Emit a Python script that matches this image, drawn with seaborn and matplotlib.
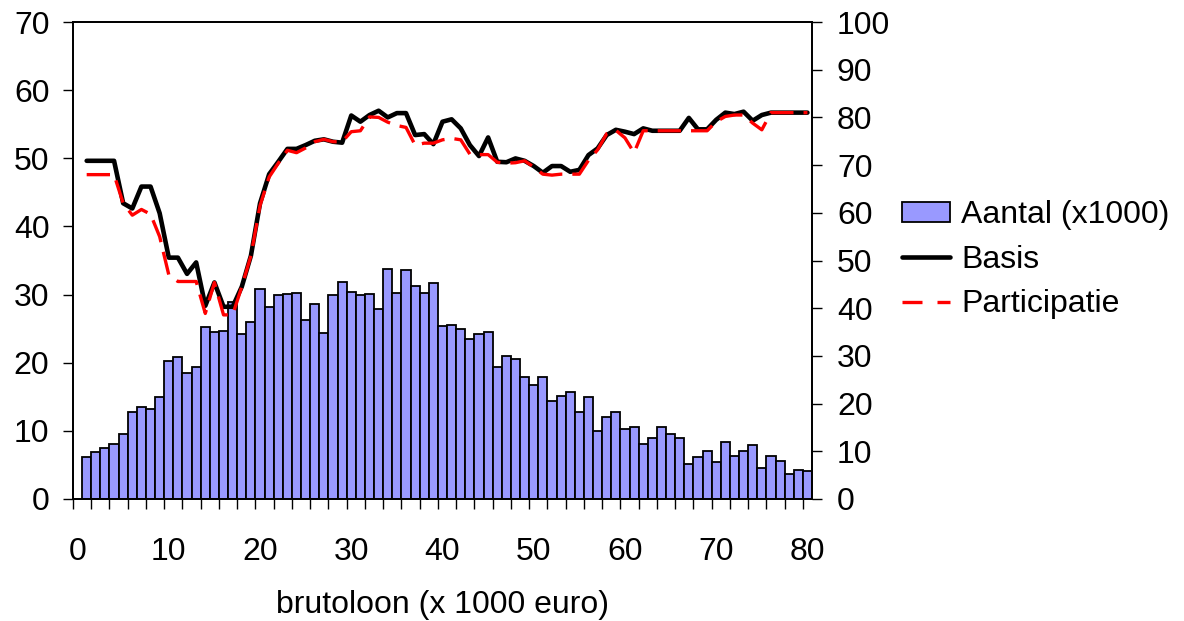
import numpy as np
import pandas as pd
import matplotlib
matplotlib.use("Agg")
import matplotlib.pyplot as plt
import seaborn as sns
from matplotlib.patches import Patch
from matplotlib.lines import Line2D
from matplotlib.ticker import FixedLocator

# ---------------- data ----------------
loon = list(range(1, 81))
aantal = [6.2, 6.9, 7.5, 8.0, 9.6, 12.8, 13.5, 13.2, 15.0, 20.2,
          20.9, 18.5, 19.4, 25.3, 24.5, 24.6, 28.9, 24.2, 26.0, 30.8,
          28.2, 30.0, 30.1, 30.2, 26.3, 28.6, 24.4, 30.0, 31.9, 30.4,
          30.0, 30.1, 27.9, 33.7, 30.3, 33.6, 31.2, 30.3, 31.7, 25.4,
          25.5, 24.9, 23.5, 24.2, 24.5, 19.4, 21.0, 20.5, 17.9, 16.7,
          17.9, 14.4, 15.1, 15.7, 12.8, 14.9, 10.0, 12.0, 12.7, 10.2,
          10.6, 8.0, 9.0, 10.6, 9.6, 9.0, 5.1, 6.1, 7.0, 5.4,
          8.4, 6.3, 7.0, 7.9, 4.5, 6.3, 5.6, 3.6, 4.3, 4.1]
basis = [70.9, 70.9, 70.9, 70.9, 62.0, 60.9, 65.5, 65.5, 59.9, 50.6,
         50.6, 47.2, 49.6, 40.5, 45.4, 40.3, 40.3, 44.5, 51.0, 62.0,
         68.1, 70.7, 73.4, 73.4, 74.2, 75.1, 75.4, 74.9, 74.7, 80.4,
         79.1, 80.5, 81.4, 80.0, 80.9, 80.9, 76.3, 76.5, 74.4, 79.1,
         79.6, 77.7, 74.2, 71.9, 75.8, 70.7, 70.6, 71.4, 70.9, 69.8,
         68.4, 69.8, 69.8, 68.6, 69.0, 72.1, 73.5, 76.3, 77.4, 77.0,
         76.5, 77.7, 77.2, 77.2, 77.2, 77.2, 79.9, 77.5, 77.5, 79.5,
         81.0, 80.7, 81.2, 79.3, 80.5, 81.0, 81.0, 81.0, 81.0, 81.0]
participatie = [68.0, 68.0, 68.0, 68.0, 62.0, 59.5, 60.7, 59.7, 55.0, 47.0,
                45.6, 45.6, 45.6, 38.9, 45.4, 38.6, 38.6, 44.5, 51.0, 61.5,
                67.5, 70.4, 73.1, 72.6, 73.6, 74.9, 75.4, 74.9, 74.9, 77.0,
                77.2, 80.1, 80.0, 79.0, 78.3, 77.9, 74.2, 74.6, 74.6, 75.3,
                75.6, 75.3, 72.3, 72.2, 72.2, 70.6, 70.4, 70.5, 70.9, 69.6,
                68.1, 67.9, 68.1, 68.1, 68.1, 71.0, 73.2, 76.6, 77.3, 75.7,
                72.6, 77.2, 77.2, 77.2, 77.2, 77.2, 77.2, 77.2, 77.2, 79.1,
                80.2, 80.5, 80.5, 78.8, 77.4, 81.0, 81.0, 81.0, 81.0, 81.0]
xticks = [0, 10, 20, 30, 40, 50, 60, 70, 80]
left_ticks = list(range(0, 71, 10))
right_ticks = list(range(0, 101, 10))

df = pd.DataFrame({"loon": loon, "aantal": aantal,
                   "basis": basis, "participatie": participatie})

# ---------------- style ----------------
sns.set_style("ticks")
plt.rcParams["font.family"] = ["Liberation Sans", "DejaVu Sans"]
for k in ["text.color", "axes.labelcolor", "xtick.color", "ytick.color", "axes.edgecolor"]:
    plt.rcParams[k] = "black"
FS = 23

fig = plt.figure(figsize=(11.84, 6.21), dpi=100)
ax = fig.add_axes([73 / 1184, 1 - 499 / 621, (812 - 73) / 1184, (499 - 22) / 621])

bar_color = "#9999FF"
sns.barplot(data=df, x="loon", y="aantal", native_scale=True, width=1.0,
            color=bar_color, saturation=1, edgecolor="black", linewidth=1.3,
            ax=ax, zorder=2)

ax.set_xlim(-0.5, 80.5)
ax.set_ylim(0, 70)
ax.yaxis.set_major_locator(FixedLocator(left_ticks))
ax.set_yticklabels([str(t) for t in left_ticks])
ax.xaxis.set_major_locator(FixedLocator(xticks))
ax.set_xticklabels([str(t) for t in xticks])
ax.xaxis.set_minor_locator(FixedLocator(np.arange(-0.5, 80, 2)))
ax.tick_params(axis="x", which="major", length=0, pad=27, labelsize=FS)
ax.tick_params(axis="x", which="minor", length=7, width=1, direction="out", color="black")
ax.tick_params(axis="y", which="major", length=7, width=1, direction="out",
               pad=10, labelsize=FS, color="black")
ax.set_xlabel("brutoloon (x 1000 euro)", fontsize=FS, labelpad=17)
ax.set_ylabel("")
for s in ax.spines.values():
    s.set_visible(True)
    s.set_linewidth(1.3)
    s.set_color("black")

ax2 = ax.twinx()
sns.lineplot(data=df, x="loon", y="basis", color="black", linewidth=3.3,
             ax=ax2, zorder=3)
sns.lineplot(data=df, x="loon", y="participatie", color="#FF0000",
             linewidth=2.4, linestyle=(0, (7, 3)), ax=ax2, zorder=4)
ax2.set_ylim(0, 100)
ax2.set_xlim(-0.5, 80.5)
ax2.yaxis.set_major_locator(FixedLocator(right_ticks))
ax2.set_yticklabels([str(t) for t in right_ticks])
ax2.tick_params(axis="y", which="major", length=7, width=1, direction="out",
                pad=11, labelsize=FS, color="black")
ax2.set_ylabel("")
for s in ax2.spines.values():
    s.set_visible(True)
    s.set_linewidth(1.3)
    s.set_color("black")

handles = [Patch(facecolor=bar_color, edgecolor="black", linewidth=1.3),
           Line2D([], [], color="black", linewidth=3.3),
           Line2D([], [], color="#FF0000", linewidth=2.4, linestyle=(0, (6, 4.5)))]
labels = ["Aantal (x1000)", "Basis", "Participatie"]
fig.legend(handles, labels, loc="upper left",
           bbox_to_anchor=(902 / 1184, 1 - 200 / 621),
           frameon=False, fontsize=FS, handlelength=1.5, handleheight=0.6,
           handletextpad=0.35, labelspacing=0.46, borderpad=0, borderaxespad=0)

fig.savefig("out.png", dpi=100)
